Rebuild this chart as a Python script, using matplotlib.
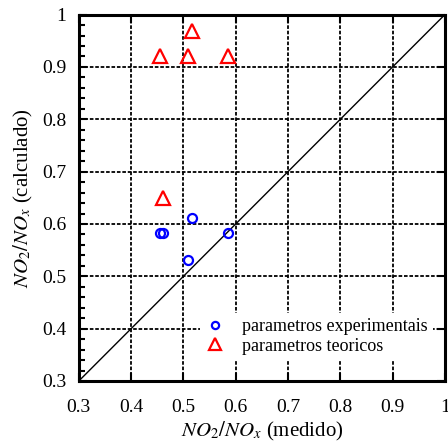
import numpy as np
import matplotlib.pyplot as plt
from matplotlib.ticker import MultipleLocator

# measured vs calculated NO2/NOx
exp_medido = [0.455, 0.46, 0.517, 0.509, 0.585]
exp_calculado = [0.582, 0.582, 0.612, 0.532, 0.582]

teo_medido = [0.455, 0.509, 0.585, 0.517, 0.46]
teo_calculado = [0.921, 0.921, 0.921, 0.969, 0.65]

ticks = [0.3, 0.4, 0.5, 0.6, 0.7, 0.8, 0.9, 1.0]
tick_labels = ['0.3', '0.4', '0.5', '0.6', '0.7', '0.8', '0.9', '1']

plt.rcParams['font.family'] = ['Liberation Serif', 'DejaVu Serif']
plt.rcParams['mathtext.fontset'] = 'stix'

fig = plt.figure(figsize=(4.48, 4.43), dpi=100)
ax = fig.add_axes([0.176, 0.14, 0.817, 0.827])

ax.plot([0.3, 1.0], [0.3, 1.0], color='black', lw=1.0, zorder=2)
ax.plot(exp_medido, exp_calculado, 'o', ms=6.5, mfc='none', mec='blue', mew=1.6,
        label='parametros experimentais', zorder=3)
ax.plot(teo_medido, teo_calculado, '^', ms=10, mfc='none', mec='red', mew=1.6,
        label='parametros teoricos', zorder=3)

ax.set_xlim(0.3, 1.0)
ax.set_ylim(0.3, 1.0)
ax.set_xticks(ticks)
ax.set_xticklabels(tick_labels)
ax.set_yticks(ticks)
ax.set_yticklabels(tick_labels)
ax.yaxis.set_minor_locator(MultipleLocator(0.02))
ax.tick_params(which='both', direction='in', top=True, right=True, labelsize=14, width=1.5)
ax.tick_params(which='minor', length=4, right=False)
ax.tick_params(which='major', length=6)
ax.tick_params(axis='x', pad=13)
ax.tick_params(axis='y', pad=9)
ax.grid(True, which='major', color='black', ls=(0, (2, 1)), lw=1.3, zorder=1)
for s in ax.spines.values():
    s.set_linewidth(2.2)

ax.set_xlabel(r'$NO_2/NO_x$ (medido)', fontsize=15, labelpad=3)
ax.set_ylabel(r'$NO_2/NO_x$ (calculado)', fontsize=15, labelpad=5)

leg = ax.legend(loc='lower right', bbox_to_anchor=(0.967, 0.057), fontsize=13,
                frameon=True, fancybox=False, edgecolor='none', facecolor='white',
                framealpha=1, handlelength=1.0, handletextpad=1.0, markerscale=0.8,
                borderpad=0.3, labelspacing=0.15, borderaxespad=0)

fig.savefig('out.png', dpi=100)
